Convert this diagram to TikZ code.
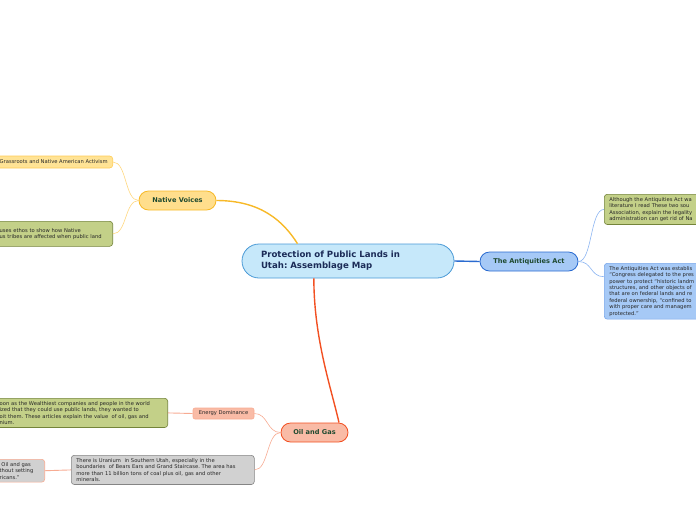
\documentclass[tikz,border=0pt]{standalone}
\usepackage{fontspec}
\setmainfont{DejaVu Sans}
\usepackage{xcolor}
\frenchspacing
\definecolor{rootfill}{HTML}{C6E8FA}
\definecolor{rootline}{HTML}{4A9AD6}
\definecolor{roottext}{HTML}{1B2B57}
\definecolor{branchtext}{HTML}{1F4A30}
\definecolor{voicefill}{HTML}{FFDE8C}
\definecolor{voiceline}{HTML}{F7B928}
\definecolor{voicethin}{HTML}{FFD77E}
\definecolor{grassfill}{HTML}{FFE395}
\definecolor{grassline}{HTML}{FFCC55}
\definecolor{actfill}{HTML}{A6C9F6}
\definecolor{actline}{HTML}{2A6BD0}
\definecolor{actthin}{HTML}{8DB6F2}
\definecolor{oilfill}{HTML}{F9BBA6}
\definecolor{oilline}{HTML}{F25022}
\definecolor{oilthin}{HTML}{F7AB92}
\definecolor{olivefill}{HTML}{C3D088}
\definecolor{oliveline}{HTML}{74843A}
\definecolor{greyfill}{HTML}{D1D1D1}
\definecolor{greyline}{HTML}{858585}
\definecolor{notetext}{HTML}{262626}

\begin{document}
\begin{tikzpicture}[x=1pt, y=-1pt,
    branch/.style={draw, line width=0.8pt, rounded corners=9.5pt, minimum height=19pt,
        inner sep=0pt, font=\fontsize{6.6}{7}\selectfont\bfseries, text=branchtext},
    note/.style={draw, line width=0.6pt, rounded corners=3pt, inner xsep=5pt, inner ysep=3pt,
        align=left, font=\fontsize{5.2}{6.4}\selectfont, text=notetext},
    twig/.style={line width=0.6pt}]
    \useasboundingbox (0,0) rectangle (696,520);
    \clip (0,0) rectangle (696,520);

    % Central topic
    \node[draw=rootline, fill=rootfill, line width=0.8pt, rounded corners=17pt, minimum height=34pt,
        text width=174pt, inner xsep=19pt, inner ysep=0pt, align=left,
        font=\fontsize{8.6}{11}\selectfont\bfseries, text=roottext] (root) at (348,261)
        {Protection of Public Lands in\\Utah: Assemblage Map};

    % Main branches
    \node[branch, fill=voicefill, draw=voiceline, minimum width=77pt] (native) at (177.5,200.5) {Native Voices};
    \node[branch, fill=actfill, draw=actline, minimum width=98pt] (antiq) at (529,261.5) {The Antiquities Act};
    \node[branch, fill=oilfill, draw=oilline, minimum width=67pt] (oil) at (314.5,432.5) {Oil and Gas};

    % Native Voices notes
    \node[note, fill=grassfill, draw=grassline, anchor=east, minimum height=12pt, inner ysep=0pt] (grass)
        at (113,162) {Grassroots and Native American Activism};
    \node[note, fill=olivefill, draw=oliveline, anchor=north east, text width=108pt, minimum height=25pt] (ethos)
        at (113,221) {uses ethos to show how Native\\us tribes are affected when public land};

    % Antiquities Act notes
    \node[note, fill=olivefill, draw=oliveline, anchor=north west, text width=110pt] (acttop) at (604,194)
        {Although the Antiquities Act wa\\literature I read These two sou\\Association, explain the legality\\administration can get rid of Na};
    \node[note, fill=actfill, draw=actthin!80!actline, anchor=north west, text width=110pt] (actbot) at (604,263)
        {The Antiquities Act was establis\\``Congress delegated to the pres\\power to protect ``historic landm\\structures, and other objects of\\that are on federal lands and re\\federal ownership, ``confined to\\with proper care and managem\\protected.''};

    % Oil and Gas notes
    \node[note, fill=oilfill, draw=oilthin, minimum height=11pt, minimum width=61pt, inner sep=0pt,
        rounded corners=2pt] (energy) at (223.5,413.5) {Energy Dominance};
    \node[note, fill=olivefill, draw=oliveline, anchor=north east, text width=163pt] (wealth) at (168,398)
        {oon as the Wealthiest companies and people in the world\\ized that they could use public lands, they wanted to\\oit them. These articles explain the value\ \ of oil, gas and\\nium.};
    \node[note, fill=greyfill, draw=greyline, anchor=north west, text width=173pt] (uranium) at (71,455)
        {There is Uranium\ \ in Southern Utah, especially in the\\boundaries\ \ of Bears Ears and Grand Staircase. The area has\\more than 11 billion tons of coal plus oil, gas and other\\minerals.};
    \node[note, fill=greyfill, draw=oilthin, anchor=north east, text width=40pt] (lastnote) at (45,459)
        {\ Oil and gas\\thout setting\\ricans.''};

    % Main connectors
    \draw[voiceline, line width=1.4pt] (native.east) .. controls +(45,0) and +(-14,-22) .. (root.161);
    \draw[actline, line width=1.4pt] (root.east) -- (antiq.west);
    \draw[oilline, line width=1.4pt] (root.207) .. controls +(0,60) and +(-8,-35) .. (oil.22);

    % Twigs
    \draw[twig, voicethin] (native.west) .. controls +(-14,0) and +(14,0) .. (grass.east);
    \draw[twig, voicethin] (native.west) .. controls +(-14,0) and +(14,0) .. (ethos.east);
    \draw[twig, actthin] (antiq.east) .. controls +(14,0) and +(-14,0) .. (acttop.west);
    \draw[twig, actthin] (antiq.east) .. controls +(14,0) and +(-14,0) .. ([yshift=14.5pt]actbot.west);
    \draw[twig, oilthin] (oil.west) .. controls +(-14,0) and +(14,0) .. (energy.east);
    \draw[twig, oilthin] (oil.west) .. controls +(-14,0) and +(14,0) .. (uranium.east);
    \draw[twig, oilthin, line width=0.9pt] (energy.west) -- (wealth.east);
    \draw[twig, oilthin, line width=0.9pt] (uranium.west) -- (lastnote.east);
\end{tikzpicture}
\end{document}
